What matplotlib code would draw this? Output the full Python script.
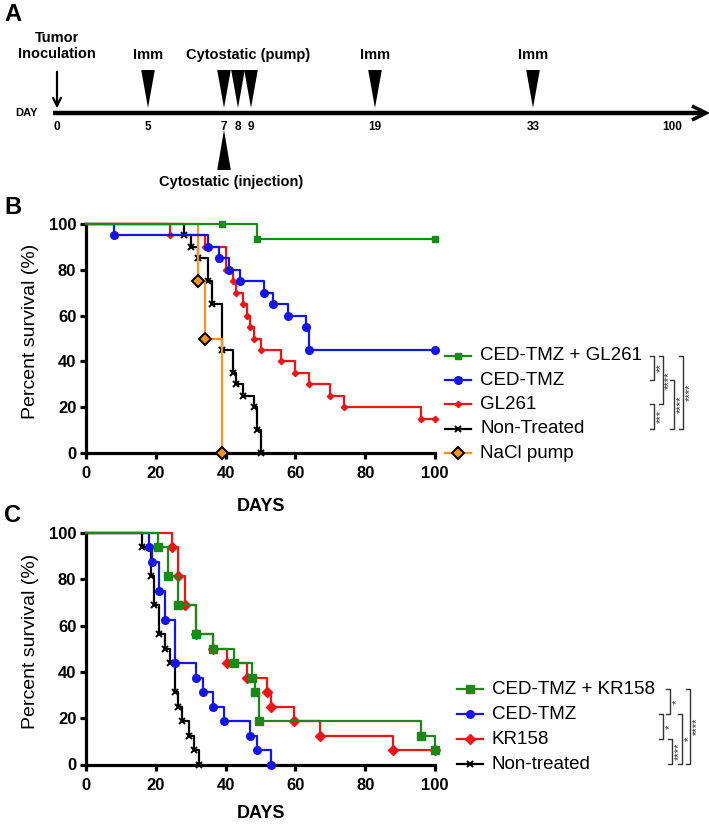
import matplotlib
matplotlib.use('Agg')
import matplotlib.pyplot as plt
from matplotlib.patches import Polygon

plt.rcParams['font.family'] = ['Liberation Sans', 'DejaVu Sans']

# ---------------- panel A : treatment schedule ----------------
day_labels = ['0', '5', '7', '8', '9', '19', '33', '100']
day_pos = [57, 148, 224, 238, 251, 375, 533, 672]   # schematic spacing, not to scale
imm_days = ['5', '19', '33']
pump_days = ['7', '8', '9']
inj_day = '7'

# ---------------- panel B : GL261 model ----------------
b_labels = ['CED-TMZ + GL261', 'CED-TMZ', 'GL261', 'Non-Treated', 'NaCl pump']
b_green_t = [0, 39, 49, 100]
b_green_s = [100, 100, 93.3, 93.3]
b_blue_t = [0, 8, 35, 38, 41, 44, 51, 53.5, 58, 63, 64, 100]
b_blue_s = [100, 95, 90, 85, 80, 75, 70, 65, 60, 55, 45, 45]
b_red_t = [0, 24, 34, 40, 42, 43, 45, 46, 47, 48, 50, 56, 60, 64, 70, 74, 96, 100]
b_red_s = [100, 95, 90, 80, 75, 70, 65, 60, 55, 50, 45, 40, 35, 30, 25, 20, 15, 15]
b_black_t = [0, 28, 30, 32, 35, 36, 39, 42, 43, 45, 48, 49, 50]
b_black_s = [100, 95, 90, 85, 75, 65, 45, 35, 30, 25, 20, 10, 0]
b_orange_t = [0, 32, 34, 39]
b_orange_s = [100, 75, 50, 0]
# (row_a, row_b, label) significance brackets next to legend
b_sig = [(0, 1, '**'), (0, 2, '****'), (2, 3, '***'), (1, 3, '****'), (0, 3, '****')]

# ---------------- panel C : KR158 model ----------------
c_labels = ['CED-TMZ + KR158', 'CED-TMZ', 'KR158', 'Non-treated']
c_green_t = [0, 20.5, 23.5, 26.5, 31.5, 36.5, 42.5, 47.5, 48.5, 49.5, 96, 100]
c_green_s = [100, 93.75, 81.25, 68.75, 56.25, 50, 43.75, 37.5, 31.25, 18.75, 12.5, 6.25]
c_blue_t = [0, 18, 19, 21, 22.5, 25.5, 31.5, 33.5, 36.5, 39.5, 47, 49, 53]
c_blue_s = [100, 93.75, 87.5, 75, 62.5, 43.75, 37.5, 31.25, 25, 18.75, 12.5, 6.25, 0]
c_red_t = [0, 24.5, 26.5, 28.5, 31.5, 36.5, 40.5, 46, 52, 53, 59.5, 67, 88, 100]
c_red_s = [100, 93.75, 81.25, 68.75, 56.25, 50, 43.75, 37.5, 31.25, 25, 18.75, 12.5, 6.25, 6.25]
c_black_t = [0, 16, 18.5, 19.5, 21, 22.5, 24, 25.5, 26.5, 27.5, 29.5, 31, 32.5]
c_black_s = [100, 93.75, 81.25, 68.75, 56.25, 50, 43.75, 31.25, 25, 18.75, 12.5, 6.25, 0]
c_sig = [(0, 1, '*'), (1, 2, '*'), (2, 3, '****'), (1, 3, '*'), (0, 3, '****')]

GREEN, BLUE, RED, BLACK, ORANGE = '#178a17', '#1414f0', '#f01414', 'black', '#f7941d'

W, H = 709, 824
fig = plt.figure(figsize=(W / 100, H / 100), dpi=100)

# overlay in pixel units for schematic + panel letters
bg = fig.add_axes([0, 0, 1, 1])
bg.set_xlim(0, W)
bg.set_ylim(H, 0)
bg.axis('off')

for letter, y in [('A', 14), ('B', 207), ('C', 515)]:
    bg.text(4, y, letter, fontsize=17, fontweight='bold', va='center', ha='left')

pos = dict(zip(day_labels, day_pos))
line_y = 113
bg.plot([53, 703], [line_y, line_y], color='black', lw=3.2, solid_capstyle='butt')
bg.plot([692, 706, 692], [106, line_y, 120], color='black', lw=2.6,
        solid_joinstyle='miter', solid_capstyle='butt')
bg.text(26, line_y, 'DAY', fontsize=8, fontweight='bold', ha='center', va='center')
for lab in day_labels:
    bg.text(pos[lab], 127, lab, fontsize=8.5, fontweight='bold', ha='center', va='center')

bg.annotate('', xy=(57, 111), xytext=(57, 69),
            arrowprops=dict(arrowstyle='->', lw=1.6, color='black', mutation_scale=14))
bg.text(57, 46, 'Tumor\nInoculation', fontsize=10.5, fontweight='bold',
        ha='center', va='center', linespacing=1.15)


def tri_down(x, top=70, tip=108, half=6.8):
    bg.add_patch(Polygon([(x - half, top), (x + half, top), (x, tip)], closed=True,
                         color='black', lw=0))


for d in imm_days:
    tri_down(pos[d])
    bg.text(pos[d], 55, 'Imm', fontsize=10.5, fontweight='bold', ha='center', va='center')
for d in pump_days:
    tri_down(pos[d])
bg.text(248, 55, 'Cytostatic (pump)', fontsize=10.5, fontweight='bold',
        ha='center', va='center')
x7 = pos[inj_day]
bg.add_patch(Polygon([(x7 - 6.8, 170), (x7 + 6.8, 170), (x7, 130)], closed=True,
                     color='black', lw=0))
bg.text(231, 182, 'Cytostatic (injection)', fontsize=10.5, fontweight='bold',
        ha='center', va='center')


def survival_panel(rect, series, labels, sig, leg_top, leg_step, leg_x, sig_x, xlab_y):
    ax = fig.add_axes(rect)
    for t, s, color, mk, ms, z in series:
        ax.step(t, s, where='post', color=color, lw=1.6, zorder=z, clip_on=False)
        ax.plot(t[1:], s[1:], ls='none', marker=mk, ms=ms, color=color,
                mec='black' if color == ORANGE else color,
                mew=1.4 if color in (BLACK, ORANGE) else 1,
                zorder=z + 0.5, clip_on=False)
    ax.set_xlim(0, 100)
    ax.set_ylim(0, 100)
    ax.set_xticks(range(0, 101, 20))
    ax.set_yticks(range(0, 101, 20))
    for sp in ['top', 'right']:
        ax.spines[sp].set_visible(False)
    for sp in ['left', 'bottom']:
        ax.spines[sp].set_linewidth(2.3)
    ax.tick_params(width=2.3, length=4.5, labelsize=12)
    ax.tick_params(axis='x', pad=5)
    ax.tick_params(axis='y', pad=2.5)
    for lab in ax.get_xticklabels() + ax.get_yticklabels():
        lab.set_fontweight('bold')
    ax.set_xlabel('DAYS', fontsize=13, fontweight='bold')
    ax.xaxis.set_label_coords(0.5, xlab_y)
    ax.set_ylabel('Percent survival (%)', fontsize=14)
    ax.yaxis.set_label_coords(-0.135, 0.53)

    # legend, drawn Prism-style next to the axes
    for i, (t, s, color, mk, ms, z) in enumerate(series):
        y = leg_top - i * leg_step
        ax.plot([leg_x - 3.7, leg_x + 3.7], [y, y], color=color, lw=1.6, clip_on=False)
        ax.plot([leg_x], [y], ls='none', marker=mk, ms=ms, color=color,
                mec='black' if color == ORANGE else color,
                mew=1.4 if color in (BLACK, ORANGE) else 1, clip_on=False)
        ax.text(leg_x + 6.3, y, labels[i], fontsize=13.5, va='center', ha='left')

    serif = 1.1
    for (a, b, lab), xv in zip(sig, sig_x):
        ya = leg_top - a * leg_step
        yb = leg_top - b * leg_step
        ax.plot([xv - serif, xv, xv, xv - serif], [ya, ya, yb, yb], color='#333333',
                lw=1, clip_on=False)
        ax.text(xv + 0.5, (ya + yb) / 2, lab, fontsize=8, rotation=90,
                ha='left', va='center', color='#333333')
    return ax


b_series = [
    (b_green_t, b_green_s, GREEN, 's', 5, 6),
    (b_blue_t, b_blue_s, BLUE, 'o', 5.5, 5),
    (b_red_t, b_red_s, RED, 'D', 3.2, 3),
    (b_black_t, b_black_s, BLACK, 'x', 5, 2),
    (b_orange_t, b_orange_s, ORANGE, 'D', 6.5, 4),
]
survival_panel([86 / W, (H - 453) / H, 349 / W, 229 / H], b_series, b_labels, b_sig,
               leg_top=42.4, leg_step=10.6, leg_x=106.6,
               sig_x=[162.8, 165.2, 162.8, 168.5, 171.0], xlab_y=-0.195)

c_series = [
    (c_green_t, c_green_s, GREEN, 's', 5.5, 6),
    (c_blue_t, c_blue_s, BLUE, 'o', 5.5, 5),
    (c_red_t, c_red_s, RED, 'D', 5, 3),
    (c_black_t, c_black_s, BLACK, 'x', 5, 2),
]
survival_panel([86 / W, (H - 764.5) / H, 349 / W, 231.5 / H], c_series, c_labels, c_sig,
               leg_top=32.6, leg_step=10.8, leg_x=110.0,
               sig_x=[167.3, 165.3, 167.8, 170.7, 173.1], xlab_y=-0.175)

fig.savefig('out.png', dpi=100)
